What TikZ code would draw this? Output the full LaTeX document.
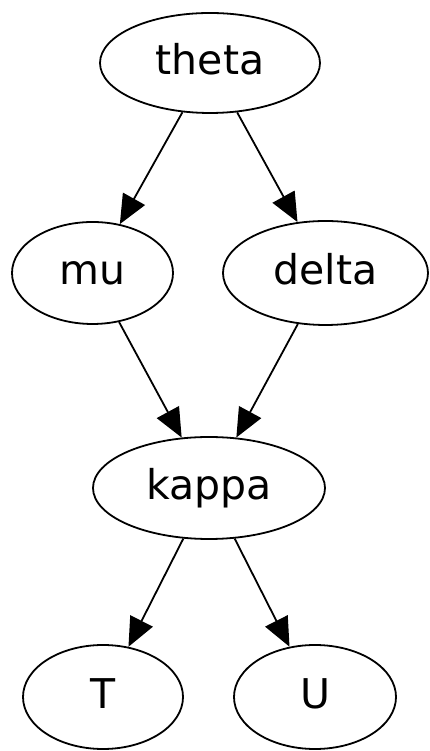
\documentclass[tikz,border=0pt]{standalone}
\usepackage{fontspec}
\setmainfont{DejaVu Sans}
\usetikzlibrary{shapes.geometric,arrows.meta}
\begin{document}
\begin{tikzpicture}[x=1pt,y=1pt,
  gnode/.style={ellipse,draw=black,line width=1.8pt,inner sep=0pt,
    font=\fontsize{41}{41}\selectfont,text height=32pt,text depth=8pt},
  edge/.style={line width=1.8pt,-{Triangle[length=29pt,width=25pt]}}]
\useasboundingbox (0,0) rectangle (429,751);
\node[gnode,minimum width=220pt,minimum height=100pt] (theta) at (210,688) {theta};
\node[gnode,minimum width=161pt,minimum height=102pt] (mu) at (92.5,478) {mu};
\node[gnode,minimum width=205pt,minimum height=104pt] (delta) at (325.5,478) {delta};
\node[gnode,minimum width=232pt,minimum height=102pt] (kappa) at (209,263) {kappa};
\node[gnode,minimum width=160pt,minimum height=104pt] (T) at (103,54) {T};
\node[gnode,minimum width=162pt,minimum height=104pt] (U) at (315,54) {U};
\draw[edge] (theta) -- (mu);
\draw[edge] (theta) -- (delta);
\draw[edge] (mu) -- (kappa);
\draw[edge] (delta) -- (kappa);
\draw[edge] (kappa) -- (T);
\draw[edge] (kappa) -- (U);
\end{tikzpicture}
\end{document}
